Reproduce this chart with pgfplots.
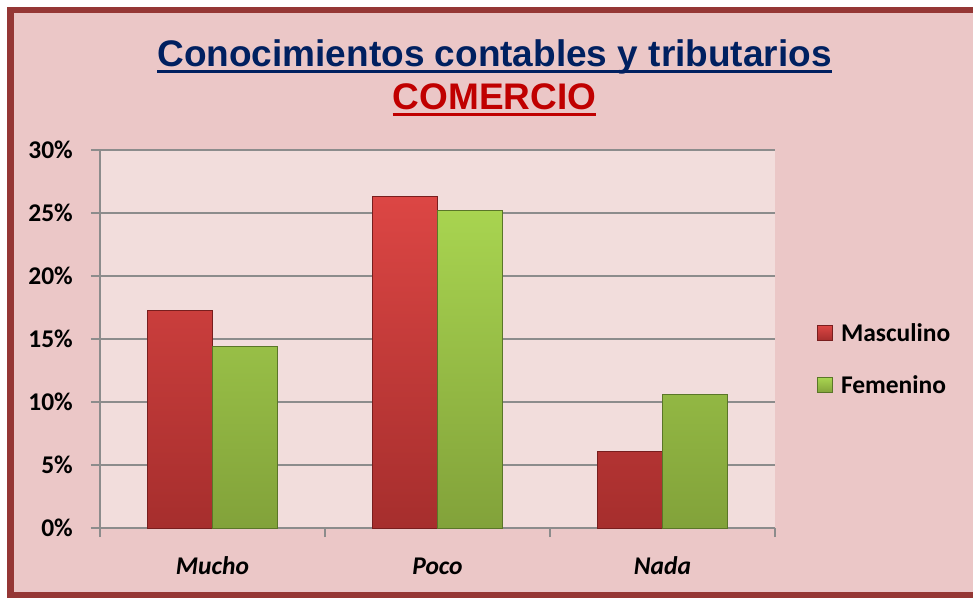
\documentclass[border=0pt]{standalone}
\usepackage{pgfplots}
\pgfplotsset{compat=1.18}
\usepackage{fontspec}
\setmainfont{Carlito}
\newfontfamily\arialfont{Liberation Sans}
\definecolor{bgpink}{RGB}{235,199,199}
\definecolor{plotbg}{RGB}{242,221,220}
\definecolor{framec}{RGB}{149,55,53}
\definecolor{navy}{RGB}{0,32,96}
\definecolor{titlered}{RGB}{192,0,0}
\definecolor{gridc}{RGB}{140,140,140}
\definecolor{redtop}{RGB}{220,70,68}
\definecolor{redbot}{RGB}{166,46,45}
\definecolor{rededge}{RGB}{120,30,30}
\definecolor{grntop}{RGB}{168,212,80}
\definecolor{grnbot}{RGB}{130,162,58}
\definecolor{grnedge}{RGB}{90,118,40}
\begin{document}
\begin{tikzpicture}[x=1pt,y=1pt]
\useasboundingbox (0,0) rectangle (973,597);
\fill[white] (0,0) rectangle (973,597);
\begin{scope}
\clip (0,0) rectangle (973,597);
\draw[line width=6.5pt, draw=framec, fill=bgpink] (10.5,1.5) rectangle (990,587);
\end{scope}
\node[inner sep=0pt, anchor=base, text=navy, font=\arialfont\bfseries\fontsize{37}{40}\selectfont] (t1) at (494.5,530) {Conocimientos contables y tributarios};
\draw[navy, line width=3pt] ([yshift=-4.5pt]t1.base west) -- ([yshift=-4.5pt]t1.base east);
\node[inner sep=0pt, anchor=base, text=titlered, font=\arialfont\bfseries\fontsize{37}{40}\selectfont] (t2) at (494.5,487) {COMERCIO};
\draw[titlered, line width=3pt] ([yshift=-4.5pt]t2.base west) -- ([yshift=-4.5pt]t2.base east);
\begin{axis}[
  at={(100pt,69pt)}, anchor=south west,
  width=675pt, height=378pt, scale only axis,
  xmin=-0.5, xmax=2.5, ymin=0, ymax=30,
  axis background/.style={fill=plotbg},
  axis x line*=bottom, axis y line*=left,
  axis line style={-, draw=gridc, line width=1.5pt},
  ymajorgrids, grid style={draw=gridc, line width=1.5pt},
  ytick={0,5,10,15,20,25,30},
  yticklabels={0\%,5\%,10\%,15\%,20\%,25\%,30\%},
  xtick={0,1,2}, xticklabels={Mucho,Poco,Nada},
  minor xtick={-0.5,0.5,1.5,2.5},
  tick align=outside,
  major tick length=9pt, minor tick length=9pt,
  major x tick style={draw=none},
  minor x tick style={draw=gridc, line width=1.5pt},
  major y tick style={draw=gridc, line width=1.5pt},
  yticklabel style={font=\bfseries\fontsize{25.5}{30}\selectfont, inner sep=0pt, anchor=east, xshift=-18pt},
  xticklabel style={font=\bfseries\itshape\fontsize{25.5}{30}\selectfont, inner sep=0pt, anchor=base, yshift=-37pt},
  ybar=0pt, bar width=65pt,
  legend image code/.code={\draw[#1, line width=0.8pt] (0pt,-7.5pt) rectangle (15pt,7.5pt);},
  legend style={draw=none, fill=none, at={(1,0.447)}, anchor=west, xshift=42pt, inner sep=0pt,
    row sep=29pt, column sep=6pt, font=\bfseries\fontsize{25.5}{30}\selectfont, cells={anchor=west}},
]
\addplot[top color=redtop, bottom color=redbot, draw=rededge, line width=1pt] coordinates {(0,17.3) (1,26.3) (2,6.1)};
\addplot[top color=grntop, bottom color=grnbot, draw=grnedge, line width=1pt] coordinates {(0,14.4) (1,25.2) (2,10.6)};
\legend{Masculino,Femenino}
\end{axis}
\end{tikzpicture}
\end{document}
